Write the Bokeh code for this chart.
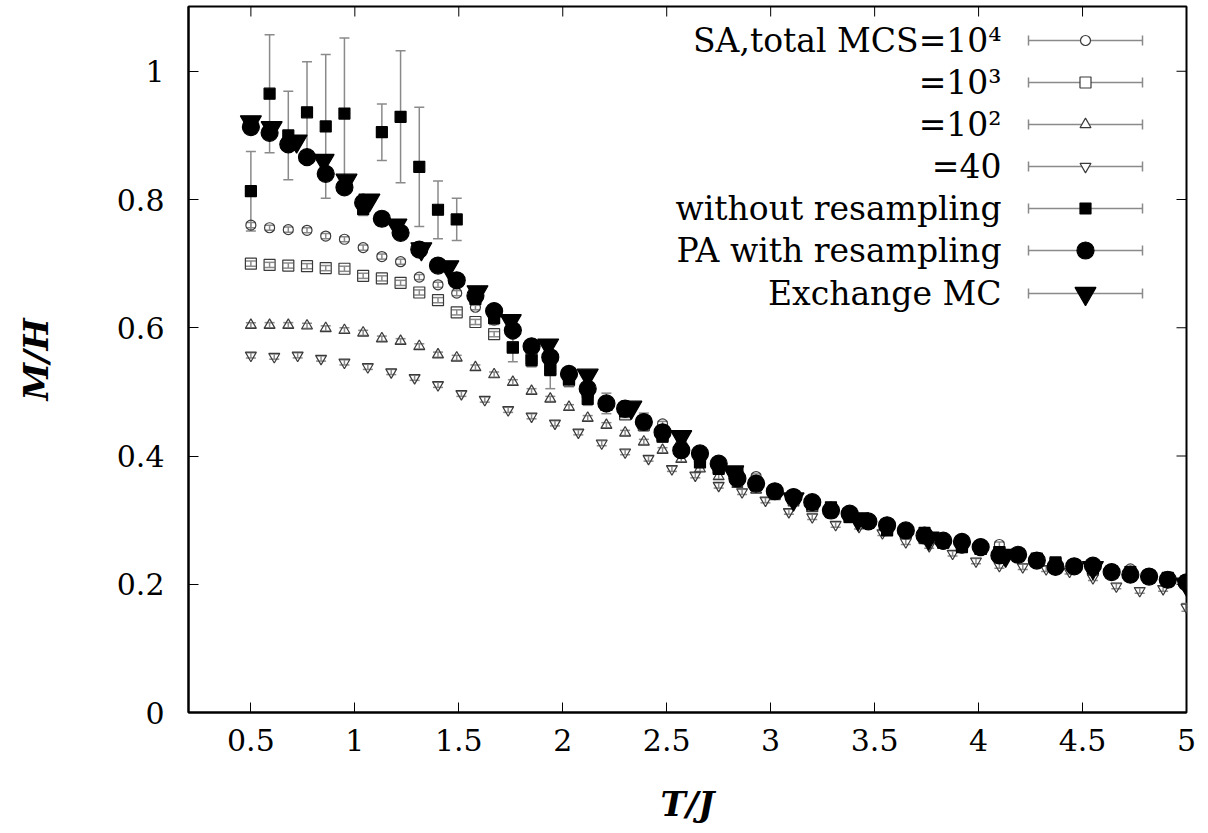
from bokeh.plotting import figure
from bokeh.models import Range1d, ColumnDataSource, Whisker, TeeHead, Label, LinearAxis, FixedTicker, NumeralTickFormatter
from bokeh.embed import file_html
from bokeh.resources import INLINE

# ---------------- data ----------------
T_sa = [0.50, 0.59, 0.68, 0.77, 0.86, 0.95, 1.04, 1.13, 1.22, 1.31, 1.40, 1.49, 1.58, 1.67, 1.76, 1.85, 1.94,
        2.03, 2.12, 2.21, 2.30, 2.39, 2.48, 2.57, 2.66, 2.75, 2.84, 2.93, 3.02, 3.11, 3.20, 3.29, 3.38, 3.47,
        3.56, 3.65, 3.74, 3.83, 3.92, 4.01, 4.10, 4.19, 4.28, 4.37, 4.46, 4.55, 4.64, 4.73, 4.82, 4.91, 5.00]

sa1e4 = [0.760, 0.756, 0.753, 0.752, 0.743, 0.738, 0.725, 0.711, 0.703, 0.679, 0.667, 0.654, 0.632, 0.612, 0.590,
         0.570, 0.550, 0.527, 0.505, 0.485, 0.468, 0.455, 0.450, 0.420, 0.400, 0.385, 0.372, 0.368, 0.345, 0.335,
         0.325, 0.315, 0.308, 0.300, 0.290, 0.282, 0.275, 0.262, 0.256, 0.253, 0.262, 0.243, 0.238, 0.232, 0.228,
         0.226, 0.222, 0.224, 0.208, 0.210, 0.203]
sa1e3 = [0.700, 0.698, 0.697, 0.696, 0.693, 0.692, 0.681, 0.677, 0.670, 0.655, 0.643, 0.624, 0.609, 0.590, 0.570,
         0.552, 0.535, 0.518, 0.500, 0.480, 0.465, 0.448, 0.432, 0.412, 0.398, 0.382, 0.368, 0.355, 0.342, 0.333,
         0.322, 0.314, 0.305, 0.297, 0.288, 0.280, 0.272, 0.265, 0.260, 0.255, 0.250, 0.244, 0.238, 0.232, 0.227,
         0.223, 0.218, 0.214, 0.210, 0.206, 0.202]
sa1e2 = [0.604, 0.604, 0.604, 0.603, 0.599, 0.596, 0.592, 0.583, 0.579, 0.571, 0.558, 0.553, 0.538, 0.527, 0.515,
         0.501, 0.489, 0.476, 0.459, 0.448, 0.436, 0.422, 0.409, 0.395, 0.380, 0.368, 0.356, 0.347, 0.337, 0.327,
         0.318, 0.309, 0.301, 0.293, 0.286, 0.278, 0.271, 0.264, 0.258, 0.252, 0.246, 0.241, 0.236, 0.231, 0.226,
         0.222, 0.217, 0.213, 0.209, 0.204, 0.198]
sa_err = [0.004, 0.004, 0.004, 0.004, 0.004, 0.004, 0.004, 0.004, 0.004, 0.004, 0.004, 0.004, 0.004, 0.004, 0.004,
          0.004, 0.004, 0.004, 0.004, 0.004, 0.004, 0.004, 0.004, 0.004, 0.004, 0.004, 0.004, 0.004, 0.004, 0.004,
          0.004, 0.004, 0.004, 0.004, 0.004, 0.004, 0.004, 0.004, 0.004, 0.004, 0.004, 0.004, 0.004, 0.004, 0.004,
          0.004, 0.004, 0.004, 0.004, 0.004, 0.004]

T_40 = [0.5, 0.6125, 0.725, 0.8375, 0.95, 1.0625, 1.175, 1.2875, 1.4, 1.5125, 1.625, 1.7375, 1.85, 1.9625, 2.075,
        2.1875, 2.3, 2.4125, 2.525, 2.6375, 2.75, 2.8625, 2.975, 3.0875, 3.2, 3.3125, 3.425, 3.5375, 3.65, 3.7625,
        3.875, 3.9875, 4.1, 4.2125, 4.325, 4.4375, 4.55, 4.6625, 4.775, 4.8875, 5.0]
sa40 = [0.557, 0.555, 0.557, 0.552, 0.546, 0.539, 0.531, 0.522, 0.511, 0.497, 0.488, 0.472, 0.462, 0.451, 0.437,
        0.420, 0.406, 0.396, 0.380, 0.370, 0.354, 0.344, 0.331, 0.313, 0.305, 0.293, 0.290, 0.280, 0.266, 0.260,
        0.248, 0.236, 0.229, 0.227, 0.224, 0.220, 0.210, 0.197, 0.190, 0.193, 0.164]
sa40_err = [0.004, 0.004, 0.004, 0.004, 0.004, 0.004, 0.004, 0.004, 0.004, 0.004, 0.004, 0.004, 0.004, 0.004,
            0.004, 0.004, 0.004, 0.004, 0.004, 0.004, 0.004, 0.004, 0.004, 0.004, 0.004, 0.004, 0.004, 0.004,
            0.004, 0.004, 0.004, 0.004, 0.004, 0.004, 0.004, 0.004, 0.004, 0.004, 0.004, 0.004, 0.006]

no_res = [0.813, 0.965, 0.900, 0.936, 0.914, 0.934, 0.785, 0.905, 0.929, 0.851, 0.784, 0.769, 0.645, 0.615, 0.569,
          0.549, 0.534, 0.520, 0.489, 0.480, 0.470, 0.452, 0.430, 0.410, 0.390, 0.380, 0.375, 0.355, 0.346, 0.335,
          0.325, 0.320, 0.305, 0.296, 0.284, 0.282, 0.280, 0.265, 0.258, 0.255, 0.250, 0.245, 0.240, 0.234, 0.228,
          0.225, 0.220, 0.219, 0.213, 0.210, 0.205]
no_res_err = [0.062, 0.092, 0.069, 0.079, 0.112, 0.118, 0.010, 0.044, 0.103, 0.093, 0.045, 0.033, 0.010, 0.010,
              0.022, 0.010, 0.029, 0.012, 0.010, 0.008, 0.010, 0.008, 0.008, 0.008, 0.008, 0.008, 0.008, 0.008,
              0.008, 0.006, 0.006, 0.006, 0.006, 0.006, 0.006, 0.006, 0.006, 0.006, 0.006, 0.006, 0.006, 0.006,
              0.006, 0.006, 0.006, 0.006, 0.006, 0.006, 0.006, 0.006, 0.006]

pa_res = [0.913, 0.904, 0.886, 0.866, 0.840, 0.819, 0.795, 0.770, 0.748, 0.722, 0.697, 0.674, 0.650, 0.626, 0.596,
          0.571, 0.554, 0.528, 0.505, 0.482, 0.474, 0.453, 0.437, 0.409, 0.404, 0.388, 0.365, 0.357, 0.345, 0.336,
          0.328, 0.315, 0.310, 0.298, 0.292, 0.284, 0.276, 0.268, 0.266, 0.258, 0.245, 0.246, 0.237, 0.227, 0.228,
          0.229, 0.219, 0.215, 0.212, 0.207, 0.203]
pa_err = [0.005, 0.005, 0.005, 0.005, 0.005, 0.005, 0.005, 0.005, 0.005, 0.005, 0.005, 0.005, 0.005, 0.006, 0.006,
          0.006, 0.006, 0.006, 0.006, 0.016, 0.006, 0.014, 0.006, 0.006, 0.006, 0.006, 0.006, 0.006, 0.006, 0.006,
          0.006, 0.006, 0.006, 0.006, 0.006, 0.006, 0.006, 0.006, 0.006, 0.006, 0.006, 0.006, 0.006, 0.006, 0.006,
          0.006, 0.006, 0.006, 0.006, 0.006, 0.006]

T_ex = [0.50, 0.60, 0.72, 0.85, 0.96, 1.07, 1.20, 1.32, 1.45, 1.59, 1.75, 1.93, 2.12, 2.33, 2.57, 2.82, 3.11, 3.42,
        3.76, 4.13, 4.55, 5.00]
ex_mc = [0.921, 0.912, 0.891, 0.861, 0.830, 0.799, 0.760, 0.723, 0.695, 0.656, 0.611, 0.573, 0.526, 0.476, 0.430,
         0.375, 0.333, 0.302, 0.272, 0.245, 0.226, 0.200]

legend_labels = ["SA,total MCS=10⁴", "=10³", "=10²", "=40", "without resampling", "PA with resampling", "Exchange MC"]
x_ticks = [0.5, 1, 1.5, 2, 2.5, 3, 3.5, 4, 4.5, 5]
y_ticks = [0, 0.2, 0.4, 0.6, 0.8, 1]

# ---------------- figure ----------------
FONT = "DejaVu Serif"
W, H = 1200, 833
LEFT, RIGHT, TOP, BOTTOM = 188, 1186, 6, 712
FW, FH = RIGHT - LEFT, BOTTOM - TOP
p = figure(width=W, height=H, output_backend="svg", toolbar_location=None,
           x_range=Range1d(0.2, 5.0), y_range=Range1d(0, 1.101),
           min_border_left=LEFT, min_border_right=W - RIGHT, min_border_top=TOP, min_border_bottom=H - BOTTOM,
           x_axis_location=None, y_axis_location=None)
p.grid.visible = False
p.outline_line_color = "black"
p.outline_line_width = 2
p.background_fill_color = "white"
p.border_fill_color = "white"
p.extra_x_ranges = {"px": Range1d(0, FW)}
p.extra_y_ranges = {"px": Range1d(0, FH)}


def style_axis(ax):
    ax.major_tick_in = 10
    ax.major_tick_out = 0
    ax.minor_tick_in = 0
    ax.minor_tick_out = 0
    ax.major_tick_line_color = "black"
    ax.major_tick_line_width = 1
    ax.axis_line_color = "black"
    ax.axis_line_width = 2
    ax.major_label_text_font = FONT
    ax.major_label_text_font_size = "30px"
    ax.major_label_text_color = "black"
    ax.formatter = NumeralTickFormatter(format="0.[0]")
    ax.axis_label_text_font = FONT
    ax.axis_label_text_font_size = "34px"
    ax.axis_label_text_font_style = "bold italic"
    ax.axis_label_text_color = "black"


xb = LinearAxis(ticker=FixedTicker(ticks=x_ticks), axis_label="T/J")
style_axis(xb)
xb.major_label_standoff = 16
xb.axis_label_standoff = 30
p.add_layout(xb, "below")
yl = LinearAxis(ticker=FixedTicker(ticks=y_ticks), axis_label="M/H")
style_axis(yl)
yl.major_label_standoff = 24
yl.axis_label_standoff = 58
p.add_layout(yl, "left")

# mirrored inward ticks on top and right edges
p.segment(x0=x_ticks, x1=x_ticks, y0=[FH] * len(x_ticks), y1=[FH - 10] * len(x_ticks),
          line_color="black", line_width=1, y_range_name="px")
p.segment(x0=[FW] * len(y_ticks), x1=[FW - 10] * len(y_ticks), y0=y_ticks, y1=y_ticks,
          line_color="black", line_width=1, x_range_name="px")

BAR = "#8a8a8a"
EDGE = "#3a3a3a"


def errbars(xs, ys, es, cap=10, lw=1.5):
    src = ColumnDataSource(dict(x=xs, lo=[y - e for y, e in zip(ys, es)], hi=[y + e for y, e in zip(ys, es)]))
    w = Whisker(source=src, base="x", lower="lo", upper="hi", dimension="height", level="underlay",
                line_color=BAR, line_width=lw,
                upper_head=TeeHead(size=cap, line_color=BAR, line_width=lw),
                lower_head=TeeHead(size=cap, line_color=BAR, line_width=lw))
    p.add_layout(w)


series = [
    (T_sa, sa1e4, sa_err, "circle", 10, None, EDGE),
    (T_sa, sa1e3, sa_err, "square", 11, None, EDGE),
    (T_sa, sa1e2, sa_err, "triangle", 11, None, EDGE),
    (T_40, sa40, sa40_err, "inverted_triangle", 11, None, EDGE),
    (T_sa, no_res, no_res_err, "square", 11, "black", "black"),
    (T_sa, pa_res, pa_err, "circle", 17, "black", "black"),
    (T_ex, ex_mc, None, "inverted_triangle", 21, "black", "black"),
]

for xs, ys, es, mk, sz, fill, edge in series:
    if es is not None:
        errbars(xs, ys, es)
    p.scatter(xs, ys, marker=mk, size=sz, fill_color=fill, line_color=edge, line_width=1.2)

# ---------------- legend (pixel coordinates inside the frame) ----------------
row_y = [672, 630, 588, 546, 504, 462, 419]
text_x = 813
line_x0, line_x1, sym_x = 840, 954, 897
for (xs, ys, es, mk, sz, fill, edge), lab, ry in zip(series, legend_labels, row_y):
    p.segment(x0=[line_x0], y0=[ry], x1=[line_x1], y1=[ry], line_color=BAR, line_width=1.5,
              x_range_name="px", y_range_name="px")
    p.segment(x0=[line_x0, line_x1], y0=[ry - 5, ry - 5], x1=[line_x0, line_x1], y1=[ry + 5, ry + 5],
              line_color=BAR, line_width=1.5, x_range_name="px", y_range_name="px")
    p.scatter([sym_x], [ry], marker=mk, size=sz, fill_color="white" if fill is None else fill,
              line_color=edge, line_width=1.2, x_range_name="px", y_range_name="px")
    p.add_layout(Label(x=text_x, y=ry, text=lab, text_align="right", text_baseline="middle",
                       text_font=FONT, text_font_size="33px", text_color="black",
                       x_range_name="px", y_range_name="px"))

open("out.html", "w").write(file_html(p, INLINE))
